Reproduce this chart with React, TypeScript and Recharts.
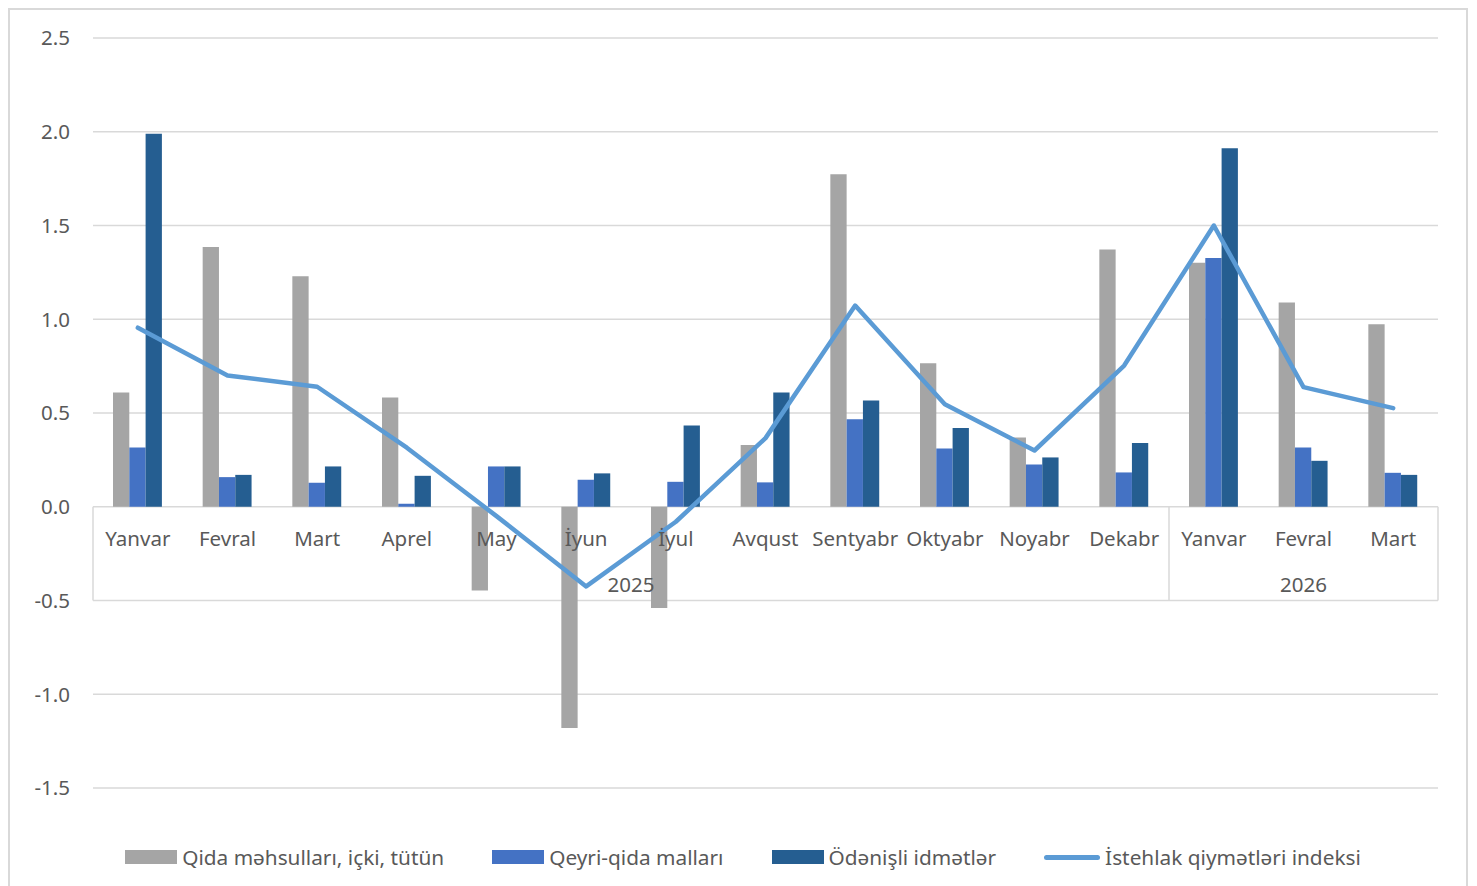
import { Bar, CartesianGrid, ComposedChart, Line, ReferenceDot, ReferenceLine, XAxis, YAxis } from 'recharts';

const months = ['Yanvar', 'Fevral', 'Mart', 'Aprel', 'May', 'İyun', 'İyul', 'Avqust', 'Sentyabr', 'Oktyabr', 'Noyabr', 'Dekabr', 'Yanvar', 'Fevral', 'Mart'];
const years = ['2025', '2026'];
const monthsPerYear = [12, 3];

const food = [0.61, 1.385, 1.23, 0.583, -0.446, -1.18, -0.54, 0.33, 1.773, 0.766, 0.37, 1.372, 1.302, 1.089, 0.974];
const nonFood = [0.316, 0.158, 0.128, 0.016, 0.215, 0.144, 0.133, 0.13, 0.467, 0.311, 0.226, 0.183, 1.327, 0.316, 0.181];
const services = [1.99, 0.17, 0.215, 0.165, 0.215, 0.178, 0.434, 0.61, 0.567, 0.42, 0.263, 0.34, 1.912, 0.245, 0.17];
const cpi = [0.955, 0.7, 0.64, 0.315, -0.05, -0.425, -0.08, 0.366, 1.073, 0.547, 0.3, 0.753, 1.5, 0.638, 0.526];

const yTicks = [-1.5, -1.0, -0.5, 0.0, 0.5, 1.0, 1.5, 2.0, 2.5];

const seriesNames = ['Qida məhsulları, içki, tütün', 'Qeyri-qida malları', 'Ödənişli idmətlər', 'İstehlak qiymətləri indeksi'];
const colors = ['#A5A5A5', '#4472C4', '#255E91', '#5B9BD5'];

const FONT = '"Noto Sans", sans-serif';
const TEXT = '#595959';
const GRID = '#D9D9D9';

const rows = months.map((m, i) => ({
  id: i,
  pos: i + 0.5,
  month: m,
  food: food[i],
  nonFood: nonFood[i],
  services: services[i],
  cpi: cpi[i],
}));

// year groups on a numeric helper axis: [start, end] in category units
const yearSpans = years.map((y, i) => {
  const start = monthsPerYear.slice(0, i).reduce((a, b) => a + b, 0);
  return { year: y, start, end: start + monthsPerYear[i] };
});

function catLabel(text: string, dy: number) {
  return (props: any) => {
    const vb = props.viewBox;
    return (
      <text
        x={vb.x + vb.width / 2}
        y={vb.y + vb.height / 2 + dy}
        textAnchor="middle"
        dominantBaseline="central"
        fill={TEXT}
        fontSize={20.5}
        fontFamily={FONT}
      >
        {text}
      </text>
    );
  };
}

function LegendRow() {
  return (
    <div style={{
      position: 'absolute', left: 5, top: 835, width: 1456, height: 24,
      display: 'flex', justifyContent: 'center', alignItems: 'center', gap: 48,
      fontFamily: FONT, fontSize: 20.8, color: TEXT,
    }}>
      {seriesNames.map((name, i) => (
        <div key={name} style={{ display: 'flex', alignItems: 'center', gap: 5 }}>
          {i < 3 ? (
            <span style={{ display: 'inline-block', width: 52, height: 14, background: colors[i] }} />
          ) : (
            <span style={{ display: 'inline-block', width: 56, height: 5, borderRadius: 3, background: colors[i] }} />
          )}
          <span>{name}</span>
        </div>
      ))}
    </div>
  );
}

export default function App() {
  const total = months.length;
  return (
    <div style={{ position: 'relative', width: 1456, height: 900, border: `2px solid ${GRID}` }}>
      <ComposedChart
        width={1456}
        height={880}
        data={rows}
        margin={{ top: 28, right: 28, bottom: 102, left: 0 }}
        barGap={0}
        barCategoryGap="22%"
      >
        <CartesianGrid vertical={false} stroke={GRID} strokeWidth={1.5} />
        <XAxis dataKey="id" type="category" hide />
        <XAxis
          xAxisId="n"
          dataKey="pos"
          type="number"
          domain={[0, total]}
          ticks={[0, total]}
          allowDataOverflow
          hide
        />
        <YAxis
          width={83}
          domain={[-1.5, 2.5]}
          ticks={yTicks}
          interval={0}
          axisLine={false}
          tickLine={false}
          tickSize={0}
          tickMargin={23}
          tickFormatter={(v: number) => v.toFixed(1)}
          tick={{ fill: TEXT, fontSize: 20.5, fontFamily: FONT }}
        />
        {[0, ...yearSpans.map((s) => s.end)].map((x) => (
          <ReferenceLine
            key={'v' + x}
            xAxisId="n"
            segment={[{ x, y: 0 }, { x, y: -0.5 }]}
            stroke={GRID}
            strokeWidth={1.5}
            ifOverflow="visible"
          />
        ))}
        <Bar dataKey="food" fill={colors[0]} barSize={16.3} isAnimationActive={false} />
        <Bar dataKey="nonFood" fill={colors[1]} barSize={16.3} isAnimationActive={false} />
        <Bar dataKey="services" fill={colors[2]} barSize={16.3} isAnimationActive={false} />
        {rows.map((r) => (
          <ReferenceDot
            key={'m' + r.id}
            xAxisId="n"
            x={r.pos}
            y={0}
            r={1}
            fill="none"
            stroke="none"
            label={catLabel(r.month, 31)}
          />
        ))}
        {yearSpans.map((s) => (
          <ReferenceDot
            key={'y' + s.year}
            xAxisId="n"
            x={(s.start + s.end) / 2}
            y={-0.5}
            r={1}
            fill="none"
            stroke="none"
            label={catLabel(s.year, -17)}
          />
        ))}
        <Line
          dataKey="cpi"
          stroke={colors[3]}
          strokeWidth={4.5}
          dot={false}
          strokeLinecap="round"
          strokeLinejoin="round"
          isAnimationActive={false}
        />
      </ComposedChart>
      <LegendRow />
    </div>
  );
}
